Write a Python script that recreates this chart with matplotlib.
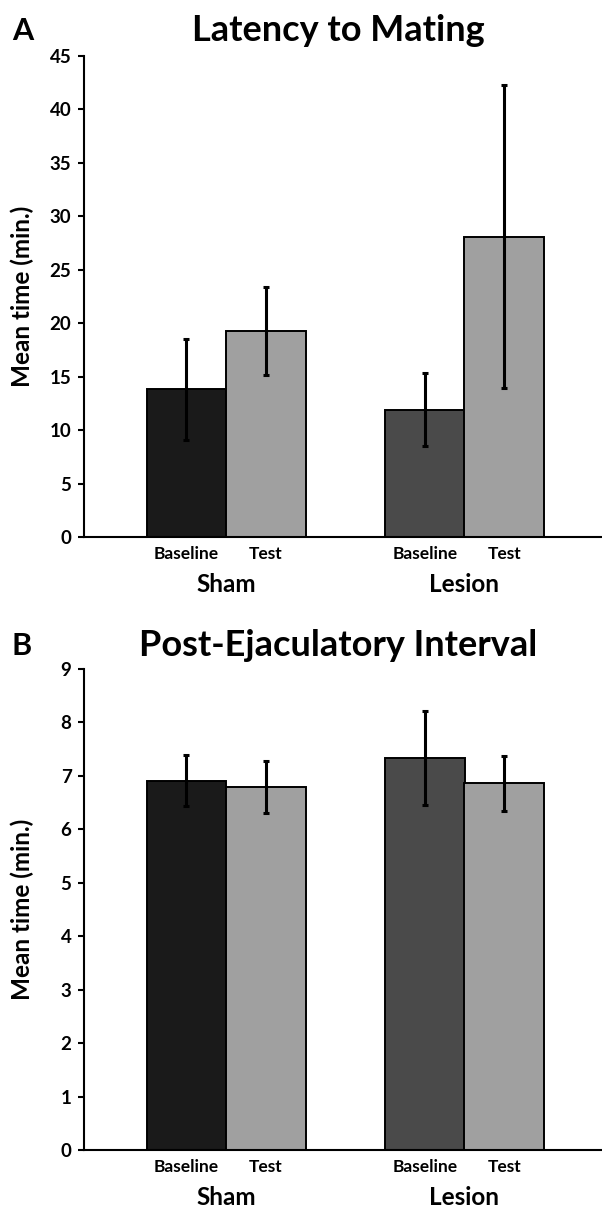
"""Bar charts: latency to mating and post-ejaculatory interval, sham vs lesion."""
import matplotlib
matplotlib.use("Agg")
import matplotlib.pyplot as plt

plt.rcParams['font.family'] = ['Lato', 'DejaVu Sans']
plt.rcParams['font.weight'] = 'bold'

groups = ['Sham', 'Lesion']
conditions = ['Baseline', 'Test']
bar_colors = [['#1a1a1a', '#a0a0a0'], ['#4a4a4a', '#a0a0a0']]

# Panel A: latency to mating (min.)
latency_mean = [[13.8, 19.3], [11.9, 28.1]]
latency_err = [[4.7, 4.1], [3.4, 14.2]]

# Panel B: post-ejaculatory interval (min.)
pei_mean = [[6.91, 6.79], [7.34, 6.86]]
pei_err = [[0.48, 0.49], [0.88, 0.52]]

W, H = 602, 1208
fig = plt.figure(figsize=(W / 100, H / 100), dpi=100)

AX_LEFT, AX_RIGHT = 84, 604
BAR_PX = 79.5          # pixel width of one bar
SHAM_PX = 226          # pixel position of the sham group centre


def px_box(left, top, right, bottom):
    return [left / W, 1 - bottom / H, (right - left) / W, (bottom - top) / H]


def draw_panel(top, bottom, means, errs, ymax, ystep, title, letter, title_y):
    ax = fig.add_axes(px_box(AX_LEFT, top, AX_RIGHT, bottom))
    centers = [0, 3]
    for gi, c in enumerate(centers):
        for ci, off in enumerate([-0.5, 0.5]):
            ax.bar(c + off, means[gi][ci], width=1.0, color=bar_colors[gi][ci],
                   edgecolor='black', linewidth=1.4, zorder=2)
            ax.errorbar(c + off, means[gi][ci], yerr=errs[gi][ci], fmt='none',
                        ecolor='black', elinewidth=2.2, capsize=2.5, capthick=2.2,
                        zorder=3)
    ax.set_xlim((AX_LEFT - SHAM_PX) / BAR_PX, (AX_RIGHT - SHAM_PX) / BAR_PX)
    ax.set_ylim(0, ymax)
    ax.set_yticks([i * ystep for i in range(int(ymax / ystep) + 1)])
    ax.set_xticks([])
    ax.tick_params(axis='y', length=4, width=1.5, direction='out', labelsize=13.5, pad=5)
    for lab in ax.get_yticklabels():
        lab.set_fontweight('bold')
    for s in ['top', 'right']:
        ax.spines[s].set_visible(False)
    for s in ['left', 'bottom']:
        ax.spines[s].set_linewidth(1.5)
    h = bottom - top
    tr = ax.get_xaxis_transform()
    for gi, c in enumerate(centers):
        for ci, off in enumerate([-0.5, 0.5]):
            ax.text(c + off, -17 / h, conditions[ci], transform=tr, ha='center',
                    va='center', fontsize=12.5, fontweight='bold')
        ax.text(c, -55 / h, groups[gi], transform=tr, ha='center', va='baseline',
                fontsize=17.5, fontweight='bold')
    fig.text(22 / W, 1 - (top + bottom) / 2 / H, 'Mean time (min.)', rotation=90,
             ha='center', va='center', fontsize=17.5, fontweight='bold')
    fig.text(338 / W, 1 - title_y / H, title, ha='center', va='baseline',
             fontsize=26, fontweight='bold')
    fig.text(12 / W, 1 - (title_y - 1) / H, letter, ha='left', va='baseline',
             fontsize=22, fontweight='bold')
    return ax


draw_panel(56, 537, latency_mean, latency_err, 45, 5,
           'Latency to Mating', 'A', 41)
draw_panel(669, 1150, pei_mean, pei_err, 9, 1,
           'Post-Ejaculatory Interval', 'B', 656)

fig.savefig('out.png', dpi=100)
